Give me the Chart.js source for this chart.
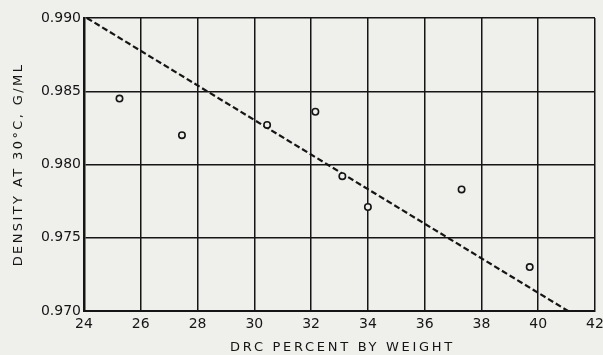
<!DOCTYPE html>
<html>
<head>
<meta charset="utf-8">
<title>Density vs DRC</title>
<script src="https://cdn.jsdelivr.net/npm/chart.js@4.4.1/dist/chart.umd.min.js"></script>
<style>
  html, body { margin: 0; padding: 0; background: #efefec; }
  #wrap { width: 603px; height: 355px; position: relative; }
</style>
</head>
<body>
<div id="wrap"><canvas id="chart"></canvas></div>
<script>
// measured points (DRC %, density g/ml)
const drcValues = [25.25, 27.45, 30.45, 32.15, 33.1, 34.0, 37.3, 39.7];
const densityValues = [0.9845, 0.9820, 0.9827, 0.9836, 0.9792, 0.9771, 0.9783, 0.9730];

// dashed fit line end points
const fitX = [24.1, 41.05];
const fitY = [0.990, 0.970];

// axis ranges / ticks
const xTicks = [24, 26, 28, 30, 32, 34, 36, 38, 40, 42];
const yTicks = [0.970, 0.975, 0.980, 0.985, 0.990];

const xTitle = 'DRC PERCENT BY WEIGHT';
const yTitle = 'DENSITY AT 30\u00B0C, G/ML';

const INK = '#151515';
const PAPER = '#efefec';
const FONT = '"DejaVu Sans", sans-serif';

// paper background
const paperPlugin = {
  id: 'paper',
  beforeDraw(chart) {
    const ctx = chart.ctx;
    ctx.save();
    ctx.fillStyle = PAPER;
    ctx.fillRect(0, 0, chart.width, chart.height);
    ctx.restore();
  }
};

// axis titles with letter spacing like the hand lettering
const titlePlugin = {
  id: 'spacedTitles',
  afterDraw(chart) {
    const ctx = chart.ctx;
    const area = chart.chartArea;
    ctx.save();
    ctx.fillStyle = INK;
    ctx.font = '13px ' + FONT;
    ctx.textAlign = 'center';
    ctx.textBaseline = 'middle';
    ctx.letterSpacing = '2.7px';
    ctx.fillText(xTitle, (area.left + area.right) / 2 + 3, 348);
    ctx.translate(19, (area.top + area.bottom) / 2);
    ctx.rotate(-Math.PI / 2);
    ctx.letterSpacing = '2.4px';
    ctx.fillText(yTitle, 0, 0);
    ctx.restore();
  }
};

new Chart(document.getElementById('chart'), {
  type: 'scatter',
  data: {
    datasets: [{
      label: 'measured',
      data: drcValues.map((x, i) => ({ x: x, y: densityValues[i] })),
      pointRadius: 3.2,
      pointBorderWidth: 1.6,
      pointBorderColor: INK,
      pointBackgroundColor: PAPER,
      showLine: false
    }, {
      label: 'fit',
      data: fitX.map((x, i) => ({ x: x, y: fitY[i] })),
      showLine: true,
      borderColor: INK,
      borderWidth: 2.2,
      borderDash: [6, 3],
      pointRadius: 0
    }]
  },
  options: {
    responsive: true,
    maintainAspectRatio: false,
    animation: false,
    layout: { padding: { left: 0, top: 18, right: 8, bottom: 0 } },
    plugins: {
      legend: { display: false },
      tooltip: { enabled: false }
    },
    scales: {
      x: {
        type: 'linear',
        min: 24,
        max: 42,
        afterFit(scale) { scale.height = 44; scale.paddingRight = 0; scale.paddingLeft = 0; },
        afterBuildTicks(scale) { scale.ticks = xTicks.map(v => ({ value: v })); },
        grid: { color: INK, lineWidth: 1.5, drawTicks: false },
        border: { display: true, color: INK, width: 2 },
        ticks: {
          color: INK,
          padding: 5,
          font: { family: FONT, size: 14 },
          callback: v => String(v)
        }
      },
      y: {
        type: 'linear',
        min: 0.970,
        max: 0.990,
        afterFit(scale) { scale.width = 84; },
        afterBuildTicks(scale) { scale.ticks = yTicks.map(v => ({ value: v })); },
        grid: { color: INK, lineWidth: 1.5, drawTicks: false },
        border: { display: true, color: INK, width: 2.5 },
        ticks: {
          color: INK,
          padding: 3,
          font: { family: FONT, size: 14 },
          callback: v => v.toFixed(3)
        }
      }
    }
  },
  plugins: [paperPlugin, titlePlugin]
});
</script>
</body>
</html>
